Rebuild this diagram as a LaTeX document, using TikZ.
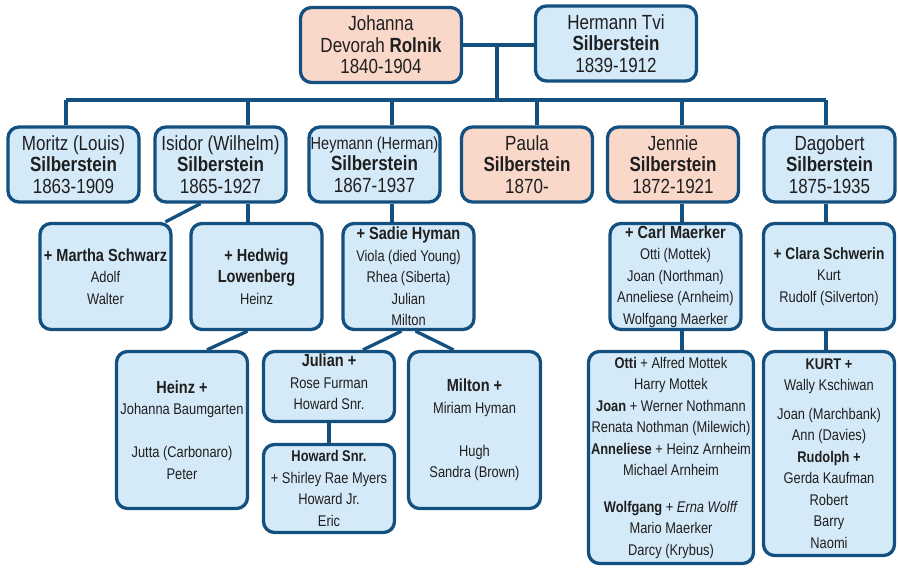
\documentclass[tikz,border=0pt]{standalone}
\usepackage{fontspec}
\setmainfont{Liberation Sans}[FakeStretch=0.83]
\usepackage{tikz}
\usetikzlibrary{positioning,backgrounds}
\definecolor{treeBlue}{HTML}{14507F}
\definecolor{treeFill}{HTML}{D5EAF9}
\definecolor{treePink}{HTML}{F9D8CA}
\definecolor{treeText}{HTML}{1F1F1F}
\newcommand{\gentop}{\fontsize{20.5}{21.5}\selectfont}
\newcommand{\genbody}{\fontsize{15.5}{21.5}\selectfont}
\newcommand{\genhead}{\fontsize{17.5}{21.5}\selectfont\bfseries}

\begin{document}
\begin{tikzpicture}[x=1pt,y=-1pt,
    person/.style={draw=treeBlue,line width=3.3pt,rounded corners=11pt,fill=treeFill,
      text=treeText,align=center,inner sep=0pt,minimum width=131pt},
    woman/.style={person,fill=treePink},
    elder/.style={minimum height=75pt,font=\gentop},
    spouse/.style={minimum height=106pt,font=\genbody},
    grand/.style={font=\genbody},
    link/.style={draw=treeBlue,line width=3.3pt}]
  \useasboundingbox (0,0) rectangle (898,569);

  % parents
  \node[woman,elder,minimum width=161pt] (johanna) at (381,45)
    {Johanna\\Devorah \textbf{Rolnik}\\1840-1904};
  \node[person,elder,minimum width=161pt] (hermann) at (616,43.5)
    {Hermann Tvi\\\textbf{Silberstein}\\1839-1912};

  % children
  \node[person,elder] (moritz) at (73.5,164.5) {Moritz (Louis)\\\textbf{Silberstein}\\1863-1909};
  \node[person,elder] (isidor) at (220.5,164.5) {Isidor (Wilhelm)\\\textbf{Silberstein}\\1865-1927};
  \node[person,elder] (heymann) at (374.5,164.5)
    {{\fontsize{17.5}{21.5}\selectfont Heymann (Herman)}\\\textbf{Silberstein}\\1867-1937};
  \node[woman,elder] (paula) at (527,164.5) {Paula\\\textbf{Silberstein}\\1870-};
  \node[woman,elder] (jennie) at (673,164.5) {Jennie\\\textbf{Silberstein}\\1872-1921};
  \node[person,elder] (dagobert) at (829.5,164.5) {Dagobert\\\textbf{Silberstein}\\1875-1935};

  % spouses and their children
  \node[person,spouse] (martha) at (105.5,276.5) {{\genhead + Martha Schwarz}\\Adolf\\Walter};
  \node[person,spouse] (hedwig) at (256.5,276.5) {{\genhead + Hedwig}\\{\genhead Lowenberg}\\Heinz};
  \node[person,spouse] (sadie) at (408.5,276.5)
    {{\genhead + Sadie Hyman}\\Viola (died Young)\\Rhea (Siberta)\\Julian\\Milton};
  \node[person,spouse] (carl) at (675.5,276.5)
    {{\genhead + Carl Maerker}\\Otti (Mottek)\\Joan (Northman)\\Anneliese (Arnheim)\\Wolfgang Maerker};
  \node[person,spouse] (clara) at (829,276.5)
    {{\genhead\fontsize{16.5}{21.5}\selectfont + Clara Schwerin}\\Kurt\\Rudolf (Silverton)};

  % grandchildren
  \node[person,grand,minimum height=157pt] (heinz) at (182,430)
    {{\genhead Heinz +}\\Johanna Baumgarten\\[21.5pt]Jutta (Carbonaro)\\Peter};
  \node[person,grand,minimum height=70pt] (julian) at (329,386.5)
    {{\genhead Julian +}\\Rose Furman\\Howard Snr.\\[-12pt]};
  \node[person,grand,minimum height=88pt] (howard) at (329,488.5)
    {\textbf{Howard Snr.}\\+ Shirley Rae Myers\\Howard Jr.\\Eric};
  \node[person,grand,minimum height=157pt,minimum width=132pt] (milton) at (474.5,430)
    {{\genhead Milton +}\\Miriam Hyman\\[21.5pt]Hugh\\Sandra (Brown)};
  \node[person,grand,minimum height=212pt,minimum width=165pt] (otti) at (671,457.5)
    {\textbf{Otti} + Alfred Mottek\\Harry Mottek\\\textbf{Joan} + Werner Nothmann\\
     Renata Nothman (Milewich)\\\textbf{Anneliese} + Heinz Arnheim\\Michael Arnheim\\[15pt]
     \textbf{Wolfgang} + \textit{Erna Wolff}\\Mario Maerker\\Darcy (Krybus)};
  \node[person,grand,minimum height=204pt] (kurt) at (829,453.5)
    {\textbf{KURT +}\\Wally Kschiwan\\[7pt]Joan (Marchbank)\\Ann (Davies)\\\textbf{Rudolph +}\\
     Gerda Kaufman\\Robert\\Barry\\Naomi};

  \begin{scope}[on background layer]
    \coordinate (couple) at (497,45);
    \coordinate (hub) at (497,100);
    \draw[link] (johanna.east) -- (johanna.east -| hermann.west);
    \draw[link] (couple) -- (hub);
    \foreach \x/\kid [count=\i] in {66/moritz,248/isidor,392/heymann,537/paula,682/jennie,826/dagobert}{
      \coordinate (drop\i) at (\x,100);
      \draw[link] (drop\i) -- (drop\i |- \kid.north);
    }
    \draw[link] (drop1) -- (drop6);
    \draw[link] ([xshift=-20pt]isidor.south) -- ([xshift=60pt]martha.north);
    \draw[link] (isidor.south -| drop2) -- (hedwig.north -| drop2);
    \draw[link] (heymann.south -| drop3) -- (sadie.north -| drop3);
    \draw[link] (jennie.south -| drop5) -- (carl.north -| drop5);
    \draw[link] (dagobert.south -| drop6) -- (clara.north -| drop6);
    \draw[link] ([xshift=-9pt]hedwig.south) -- ([xshift=25pt]heinz.north);
    \draw[link] ([xshift=-7pt]sadie.south) -- ([xshift=34pt]julian.north);
    \draw[link] ([xshift=7pt]sadie.south) -- ([xshift=-21pt]milton.north);
    \draw[link] (julian.south) -- (howard.north);
    \draw[link] (carl.south -| drop5) -- (otti.north -| drop5);
    \draw[link] (clara.south -| drop6) -- (kurt.north -| drop6);
  \end{scope}
\end{tikzpicture}
\end{document}
